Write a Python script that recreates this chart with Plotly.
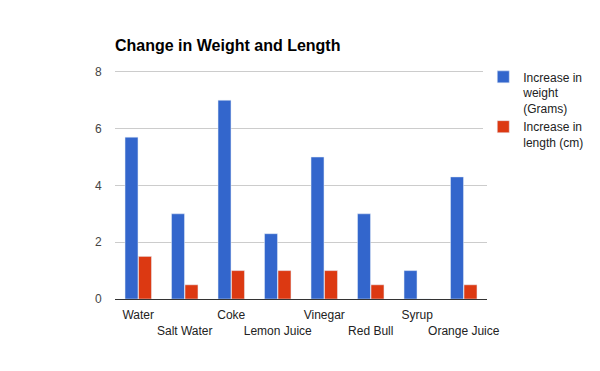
import plotly.graph_objects as go

categories = ["Water", "Salt Water", "Coke", "Lemon Juice", "Vinegar", "Red Bull", "Syrup", "Orange Juice"]
weight = [5.7, 3, 7, 2.3, 5, 3, 1, 4.3]
length = [1.5, 0.5, 1, 1, 1, 0.5, 0, 0.5]
series_names = ["Increase in<br>weight<br>(Grams)", "Increase in<br>length (cm)"]
y_ticks = [0, 2, 4, 6, 8]

tick_text = [c if i % 2 == 0 else "<br>" + c for i, c in enumerate(categories)]

fig = go.Figure()
fig.add_trace(go.Bar(x=categories, y=weight, name=series_names[0], marker_color="#3366cc"))
fig.add_trace(go.Bar(x=categories, y=length, name=series_names[1], marker_color="#dc3912"))

fig.update_layout(
    width=600, height=371,
    paper_bgcolor="white", plot_bgcolor="white",
    margin=dict(l=107, r=121, t=61, b=80, autoexpand=False),
    font=dict(family="Liberation Sans, Arial, sans-serif", size=12, color="#222222"),
    title=dict(text="<b>Change in Weight and Length</b>", x=107/600, xanchor="left",
               y=1 - 37/371, yanchor="middle", font=dict(size=16, color="#000000")),
    barmode="group", bargap=0.42, bargroupgap=0.04,
    legend=dict(x=0.99, y=1.028, xanchor="left", yanchor="top", valign="top",
                font=dict(size=12, color="#222222"), tracegroupgap=6,
                itemwidth=30),
    showlegend=True,
)
fig.update_xaxes(tickmode="array", tickvals=categories, ticktext=tick_text, tickangle=0,
                 showgrid=False, showline=False, ticks="outside", ticklen=5,
                 tickcolor="rgba(0,0,0,0)", tickfont=dict(size=12, color="#222222"))
fig.update_yaxes(range=[0, 8.1], tickvals=y_ticks, showgrid=True, gridcolor="#cccccc",
                 zeroline=True, zerolinecolor="#333333", zerolinewidth=1,
                 ticks="outside", ticklen=10, tickcolor="rgba(0,0,0,0)",
                 tickfont=dict(size=12, color="#444444"))

fig.write_html("out.html")
